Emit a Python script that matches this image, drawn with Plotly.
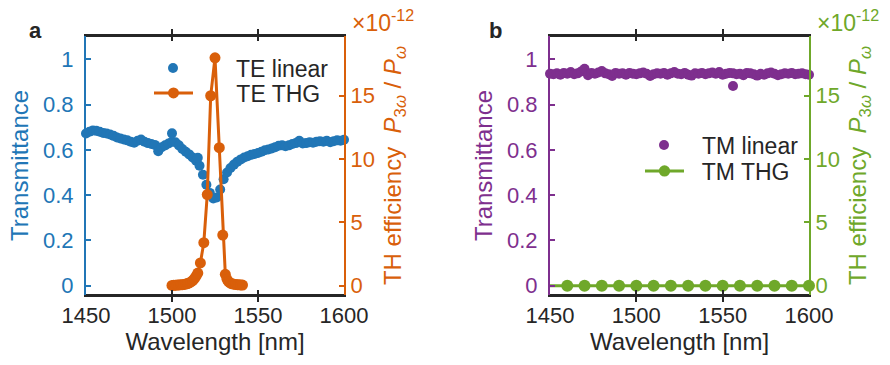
import plotly.graph_objects as go

# ---------------- data ----------------
wl_te = list(range(1450, 1601, 2))
te_linear = [0.672, 0.680, 0.686, 0.684, 0.680, 0.675, 0.672, 0.668, 0.662, 0.655,
             0.650, 0.646, 0.642, 0.636, 0.632, 0.640, 0.646, 0.636, 0.630, 0.626,
             0.622, 0.594, 0.612, 0.620, 0.628, 0.636, 0.634, 0.620, 0.604, 0.592,
             0.580, 0.566, 0.552, 0.530, 0.490, 0.446, 0.410, 0.385, 0.390, 0.425,
             0.470, 0.500, 0.520, 0.535, 0.548, 0.558, 0.566, 0.572, 0.578, 0.582,
             0.586, 0.592, 0.598, 0.602, 0.606, 0.612, 0.618, 0.620, 0.616, 0.620,
             0.626, 0.630, 0.640, 0.628, 0.630, 0.634, 0.632, 0.636, 0.638, 0.636,
             0.640, 0.634, 0.638, 0.642, 0.640, 0.645]
wl_te_extra = [1500, 1515]
te_linear_extra = [0.673, 0.565]

wl_thg_te = [1500, 1501, 1502, 1503, 1504, 1505, 1506, 1507, 1508, 1509, 1510, 1511,
             1512, 1513, 1514, 1515, 1516.5, 1518.5, 1520.5, 1522.5, 1525, 1527.5,
             1529.5, 1531, 1532, 1533, 1534, 1535, 1536, 1537, 1538, 1539, 1540, 1541]
thg_te = [0.02, 0.03, 0.04, 0.05, 0.06, 0.07, 0.08, 0.10, 0.13, 0.17, 0.22, 0.30,
          0.40, 0.55, 0.75, 1.00, 1.80, 3.40, 7.20, 15.0, 18.0, 10.9,
          4.00, 0.90, 0.50, 0.30, 0.20, 0.15, 0.12, 0.10, 0.08, 0.07, 0.06, 0.05]

wl_tm = list(range(1450, 1601, 2))
tm_linear = [0.936, 0.934, 0.938, 0.932, 0.940, 0.936, 0.944, 0.934, 0.938, 0.946,
             0.958, 0.930, 0.940, 0.936, 0.942, 0.948, 0.938, 0.934, 0.926, 0.940,
             0.936, 0.938, 0.932, 0.940, 0.936, 0.934, 0.938, 0.942, 0.936, 0.926,
             0.934, 0.938, 0.936, 0.940, 0.932, 0.938, 0.944, 0.936, 0.934, 0.940,
             0.932, 0.928, 0.938, 0.936, 0.940, 0.934, 0.938, 0.942, 0.936, 0.944,
             0.932, 0.936, 0.940, 0.938, 0.934, 0.936, 0.930, 0.940, 0.938, 0.934,
             0.928, 0.936, 0.932, 0.938, 0.942, 0.936, 0.930, 0.934, 0.938, 0.936,
             0.940, 0.934, 0.936, 0.938, 0.934, 0.932]
wl_tm_extra = [1556]
tm_linear_extra = [0.882]

wl_thg_tm = [1450, 1460, 1470, 1480, 1490, 1500, 1510, 1520, 1530, 1540, 1550, 1560,
             1570, 1580, 1590, 1600]
thg_tm = [0.0, 0.0, 0.0, 0.0, 0.0, 0.0, 0.0, 0.0, 0.0, 0.0, 0.0, 0.0, 0.0, 0.0, 0.0, 0.0]

x_ticks = [1450, 1500, 1550, 1600]
left_ticks = [0, 0.2, 0.4, 0.6, 0.8, 1]
left_ticktext = ["0", "0.2", "0.4", "0.6", "0.8", "1"]
right_ticks = [0, 5, 10, 15]

# ---------------- style ----------------
W, H = 890, 365
BLUE = "#2176B6"
ORANGE = "#D95F0A"
PURPLE = "#7E2F8E"
GREEN = "#6FA82A"
TXT = "#262626"
FONT = "Liberation Sans, Arial, sans-serif"
TICK_FS = 22
TITLE_FS = 24
LEG_FS = 23
NB = "\u00a0"


def px_x(p):
    return p / W


def px_y(p):
    return 1 - p / H


dom_y = [px_y(295), px_y(36)]
dom_a = [px_x(86), px_x(344)]
dom_b = [px_x(550), px_x(809)]
left_range = [-0.041, 1.103]
right_range = [-0.735, 19.72]

fig = go.Figure()

fig.add_trace(go.Scatter(x=wl_te + wl_te_extra, y=te_linear + te_linear_extra,
                         mode="markers", name="TE linear",
                         marker=dict(color=BLUE, size=10, opacity=1, line=dict(width=0)),
                         xaxis="x", yaxis="y", cliponaxis=False, legend="legend"))
fig.add_trace(go.Scatter(x=wl_thg_te, y=thg_te, mode="lines+markers",
                         name=NB * 6 + "TE THG",
                         line=dict(color=ORANGE, width=3),
                         marker=dict(color=ORANGE, size=11, opacity=1, line=dict(width=0)),
                         xaxis="x", yaxis="y2", cliponaxis=False, legend="legend2"))
fig.add_trace(go.Scatter(x=wl_tm + wl_tm_extra, y=tm_linear + tm_linear_extra,
                         mode="markers", name="TM linear",
                         marker=dict(color=PURPLE, size=10, opacity=1, line=dict(width=0)),
                         xaxis="x2", yaxis="y3", cliponaxis=False, legend="legend3"))
fig.add_trace(go.Scatter(x=wl_thg_tm, y=thg_tm, mode="lines+markers",
                         name=NB * 2 + "TM THG",
                         line=dict(color=GREEN, width=3),
                         marker=dict(color=GREEN, opacity=1, line=dict(width=0),
                                     size=[0] + [12] * (len(wl_thg_tm) - 1)),
                         xaxis="x2", yaxis="y4", cliponaxis=False, legend="legend4"))


def xax(domain, anchor):
    return dict(domain=domain, anchor=anchor, range=[1450, 1600], tickvals=x_ticks,
                ticks="inside", ticklen=5, tickwidth=1.5, tickcolor=TXT,
                showline=True, linecolor=TXT, linewidth=1.8, mirror="allticks",
                showgrid=False, zeroline=False, automargin=False,
                tickfont=dict(size=TICK_FS, color=TXT, family=FONT),
                ticklabelstandoff=0,
                title=dict(text="Wavelength [nm]", standoff=6,
                           font=dict(size=TITLE_FS, color=TXT, family=FONT)))


def yleft(domain, anchor, color):
    return dict(domain=domain, anchor=anchor, range=left_range, tickvals=left_ticks,
                ticktext=left_ticktext, ticks="inside", ticklen=5, tickwidth=1.5,
                tickcolor=color, showline=True, linecolor=color, linewidth=2,
                showgrid=False, zeroline=False, automargin=False,
                tickfont=dict(size=TICK_FS, color=color, family=FONT),
                ticklabelstandoff=6,
                title=dict(text="Transmittance", standoff=8,
                           font=dict(size=TITLE_FS, color=color, family=FONT)))


def yright(overlay, anchor, color):
    return dict(overlaying=overlay, anchor=anchor, side="right", range=right_range,
                tickvals=right_ticks, ticks="inside", ticklen=5, tickwidth=1.5,
                tickcolor=color, showline=True, linecolor=color, linewidth=2,
                showgrid=False, zeroline=False, automargin=False,
                tickfont=dict(size=TICK_FS, color=color, family=FONT),
                ticklabelstandoff=0,
                title=dict(text="TH efficiency  <i>P</i><sub>3<i>ω</i></sub> / <i>P</i><sub><i>ω</i></sub>",
                           standoff=10,
                           font=dict(size=TITLE_FS, color=color, family=FONT)))


def leg(xpx, ypx, itemwidth):
    return dict(x=px_x(xpx), y=px_y(ypx), xanchor="left", yanchor="middle",
                bgcolor="rgba(0,0,0,0)", borderwidth=0, itemwidth=itemwidth,
                font=dict(size=LEG_FS, color=TXT, family=FONT))


def frame(xr, yr):
    out = []
    for yv in (0, 1):
        out.append(dict(type="line", xref=xr, yref=yr, x0=0, x1=1, y0=yv, y1=yv,
                        line=dict(color=TXT, width=1.8), layer="above"))
    return out


ya = yleft(dom_y, "x", BLUE)
yb = yleft(dom_y, "x2", PURPLE)

fig.update_layout(
    width=W, height=H, margin=dict(l=0, r=0, t=0, b=0),
    paper_bgcolor="white", plot_bgcolor="white",
    font=dict(family=FONT, color=TXT),
    showlegend=True,
    xaxis=xax(dom_a, "y"),
    yaxis=ya,
    yaxis2=yright("y", "x", ORANGE),
    xaxis2=xax(dom_b, "y3"),
    yaxis3=yb,
    yaxis4=yright("y3", "x2", GREEN),
    legend=leg(110, 68, 116),
    legend2=leg(149, 93, 39),
    legend3=leg(626, 145, 66),
    legend4=leg(640, 171, 39),
    shapes=frame("x domain", "y domain") + frame("x2 domain", "y3 domain"),
    annotations=[
        dict(text="<b>a</b>", x=px_x(27), y=px_y(16), xref="paper", yref="paper",
             showarrow=False, font=dict(size=22, color=TXT, family=FONT)),
        dict(text="<b>b</b>", x=px_x(496), y=px_y(16), xref="paper", yref="paper",
             showarrow=False, font=dict(size=22, color=TXT, family=FONT)),
        dict(text="×10<sup>-12</sup>", x=px_x(350), y=px_y(21), xref="paper", yref="paper",
             xanchor="left", yanchor="middle", showarrow=False,
             font=dict(size=23, color=ORANGE, family=FONT)),
        dict(text="×10<sup>-12</sup>", x=px_x(815), y=px_y(21), xref="paper", yref="paper",
             xanchor="left", yanchor="middle", showarrow=False,
             font=dict(size=23, color=GREEN, family=FONT)),
    ],
)

fig.write_html("out.html")
